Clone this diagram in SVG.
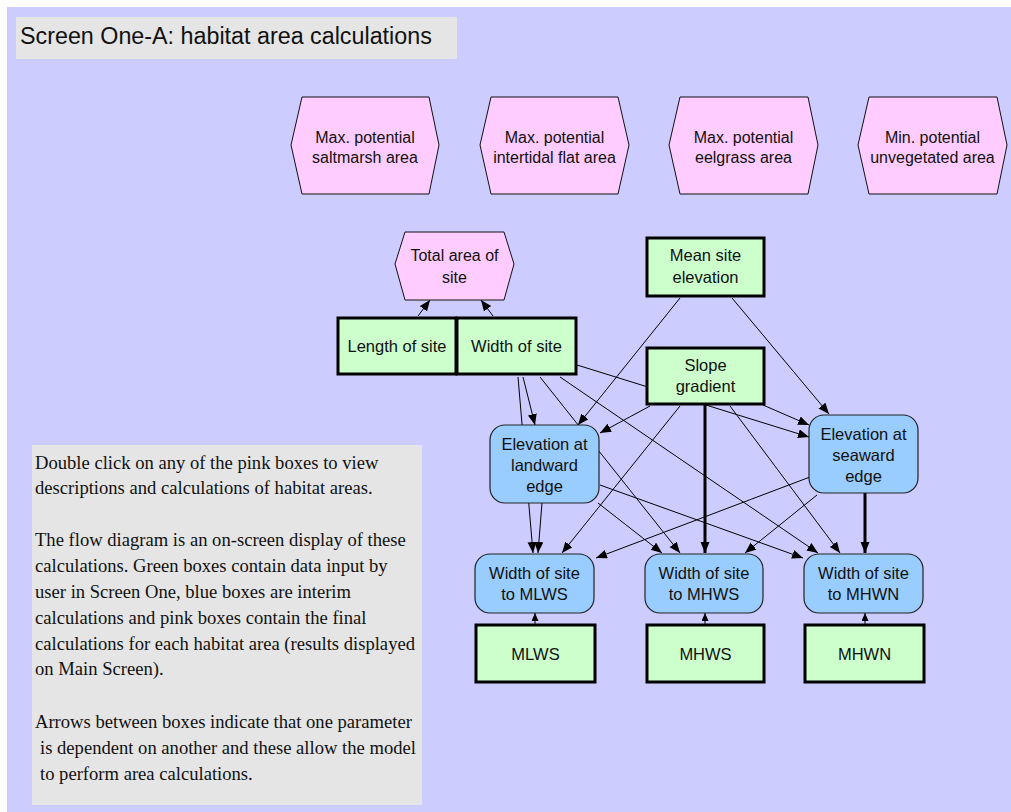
<svg xmlns="http://www.w3.org/2000/svg" width="1011" height="812" viewBox="0 0 1011 812">
<defs>
<marker id="ah" markerUnits="userSpaceOnUse" markerWidth="12" markerHeight="10" refX="11" refY="4.5" orient="auto" viewBox="0 0 12 10">
<path d="M0,0 L11,4.5 L0,9 z" fill="#000"/>
</marker>
<marker id="ahs" markerUnits="userSpaceOnUse" markerWidth="9" markerHeight="8" refX="8" refY="3.5" orient="auto" viewBox="0 0 9 8">
<path d="M0,0 L8,3.5 L0,7 z" fill="#000"/>
</marker>
<style>
.t{font-family:"Liberation Sans",Arial,sans-serif;font-size:16.5px;fill:#111;text-anchor:middle}
.th{font-family:"Liberation Sans",Arial,sans-serif;font-size:16px;fill:#111;text-anchor:middle}
.pink{fill:#ffccff;stroke:#111;stroke-width:1}
.green{fill:#ccffcc;stroke:#000;stroke-width:3}
.blue{fill:#99ccff;stroke:#222;stroke-width:1.2}
.c line{stroke:#000;stroke-width:1;marker-end:url(#ah)}
.c line.k{stroke-width:3}
.c line.s{marker-end:url(#ahs)}
.p{font-family:"Liberation Serif","Times New Roman",serif;font-size:18.6px;fill:#111}
</style>
</defs>
<rect x="0" y="0" width="1011" height="812" fill="#ffffff"/>
<rect x="7" y="7" width="1004" height="805" fill="#ccccff"/>
<g id="title">
<rect x="16" y="17" width="441" height="42" fill="#e5e5e5"/>
<text x="20" y="44" style="font-family:'Liberation Sans',Arial,sans-serif;font-size:23.3px;fill:#111">Screen One-A: habitat area calculations</text>
</g>
<g id="connectors" class="c">
<line x1="418" y1="316" x2="430" y2="300"/>
<line x1="493" y1="316" x2="481" y2="300"/>
<line x1="680" y1="298" x2="578" y2="425"/>
<line x1="732" y1="298" x2="829" y2="414"/>
<line x1="523" y1="377" x2="535" y2="425"/>
<line x1="518" y1="377" x2="533" y2="553"/>
<line x1="540" y1="377" x2="680" y2="553"/>
<line x1="560" y1="377" x2="818" y2="553"/>
<line x1="577" y1="365" x2="809" y2="437"/>
<line x1="650" y1="406" x2="600" y2="433"/>
<line x1="680" y1="406" x2="562" y2="553"/>
<line class="k" x1="705" y1="405" x2="705" y2="553"/>
<line x1="763" y1="405" x2="809" y2="425"/>
<line x1="730" y1="406" x2="840" y2="553"/>
<line x1="542" y1="503" x2="538" y2="553"/>
<line x1="598" y1="503" x2="662" y2="553"/>
<line x1="600" y1="485" x2="803" y2="558"/>
<line x1="810" y1="477" x2="596" y2="558"/>
<line x1="817" y1="495" x2="745" y2="553"/>
<line class="k" x1="865" y1="493" x2="865" y2="553"/>
<line class="s" x1="535" y1="624" x2="535" y2="613"/>
<line class="s" x1="705" y1="624" x2="705" y2="613"/>
<line class="s" x1="865" y1="624" x2="865" y2="613"/>
</g>
<g id="max-saltmarsh">
<polygon class="pink" points="302,97 429,97 439,145 429,194 302,194 291,145"/>
<text class="th" x="365" y="143">Max. potential</text>
<text class="th" x="365" y="163">saltmarsh area</text>
</g>
<g id="max-intertidal">
<polygon class="pink" points="491,97 618,97 629,145 618,194 491,194 480,145"/>
<text class="th" x="554.5" y="143">Max. potential</text>
<text class="th" x="554.5" y="163">intertidal flat area</text>
</g>
<g id="max-eelgrass">
<polygon class="pink" points="680,97 808,97 818,145 808,194 680,194 669,145"/>
<text class="th" x="743.5" y="143">Max. potential</text>
<text class="th" x="743.5" y="163">eelgrass area</text>
</g>
<g id="min-unvegetated">
<polygon class="pink" points="869,97 997,97 1007,145 997,194 869,194 858,145"/>
<text class="th" x="932.5" y="143">Min. potential</text>
<text class="th" x="932.5" y="163">unvegetated area</text>
</g>
<g id="total-area">
<polygon class="pink" points="405,232 504,232 514,264 504,300 405,300 395,264"/>
<text class="th" x="454.5" y="261">Total area of</text>
<text class="th" x="454.5" y="283">site</text>
</g>
<g id="length-of-site">
<rect class="green" x="338" y="318" width="118" height="56"/>
<text class="t" x="397" y="352">Length of site</text>
</g>
<g id="width-of-site">
<rect class="green" x="457" y="318" width="119" height="56"/>
<text class="t" x="516.5" y="352">Width of site</text>
</g>
<g id="mean-site-elevation">
<rect class="green" x="647" y="238" width="117" height="58"/>
<text class="t" x="705.5" y="261">Mean site</text>
<text class="t" x="705.5" y="283">elevation</text>
</g>
<g id="slope-gradient">
<rect class="green" x="647" y="348" width="117" height="56"/>
<text class="t" x="705.5" y="371">Slope</text>
<text class="t" x="705.5" y="392">gradient</text>
</g>
<g id="elev-landward">
<rect class="blue" x="490" y="425" width="109" height="78" rx="15" ry="15"/>
<text class="t" x="544.5" y="450">Elevation at</text>
<text class="t" x="544.5" y="471">landward</text>
<text class="t" x="544.5" y="492">edge</text>
</g>
<g id="elev-seaward">
<rect class="blue" x="809" y="415" width="109" height="78" rx="15" ry="15"/>
<text class="t" x="863.5" y="440">Elevation at</text>
<text class="t" x="863.5" y="461">seaward</text>
<text class="t" x="863.5" y="482">edge</text>
</g>
<g id="width-mlws">
<rect class="blue" x="475" y="554" width="119" height="59" rx="15" ry="15"/>
<text class="t" x="534.5" y="579">Width of site</text>
<text class="t" x="534.5" y="600">to MLWS</text>
</g>
<g id="width-mhws">
<rect class="blue" x="645" y="554" width="118" height="59" rx="15" ry="15"/>
<text class="t" x="704" y="579">Width of site</text>
<text class="t" x="704" y="600">to MHWS</text>
</g>
<g id="width-mhwn">
<rect class="blue" x="804" y="554" width="119" height="59" rx="15" ry="15"/>
<text class="t" x="863.5" y="579">Width of site</text>
<text class="t" x="863.5" y="600">to MHWN</text>
</g>
<g id="mlws">
<rect class="green" x="476" y="625" width="119" height="57"/>
<text class="t" x="535.5" y="660">MLWS</text>
</g>
<g id="mhws">
<rect class="green" x="647" y="625" width="117" height="57"/>
<text class="t" x="705.5" y="660">MHWS</text>
</g>
<g id="mhwn">
<rect class="green" x="805" y="625" width="119" height="57"/>
<text class="t" x="864.5" y="660">MHWN</text>
</g>
<g id="notes">
<rect x="32" y="445" width="390" height="360" fill="#e5e5e5"/>
<text class="p" x="35" y="469">Double click on any of the pink boxes to view</text>
<text class="p" x="35" y="494">descriptions and calculations of habitat areas.</text>
<text class="p" x="35" y="546">The flow diagram is an on-screen display of these</text>
<text class="p" x="35" y="572">calculations. Green boxes contain data input by</text>
<text class="p" x="35" y="598">user in Screen One, blue boxes are interim</text>
<text class="p" x="35" y="624">calculations and pink boxes contain the final</text>
<text class="p" x="35" y="650">calculations for each habitat area (results displayed</text>
<text class="p" x="35" y="675">on Main Screen).</text>
<text class="p" x="35" y="728">Arrows between boxes indicate that one parameter</text>
<text class="p" x="40" y="754">is dependent on another and these allow the model</text>
<text class="p" x="40" y="780">to perform area calculations.</text>
</g>
</svg>
